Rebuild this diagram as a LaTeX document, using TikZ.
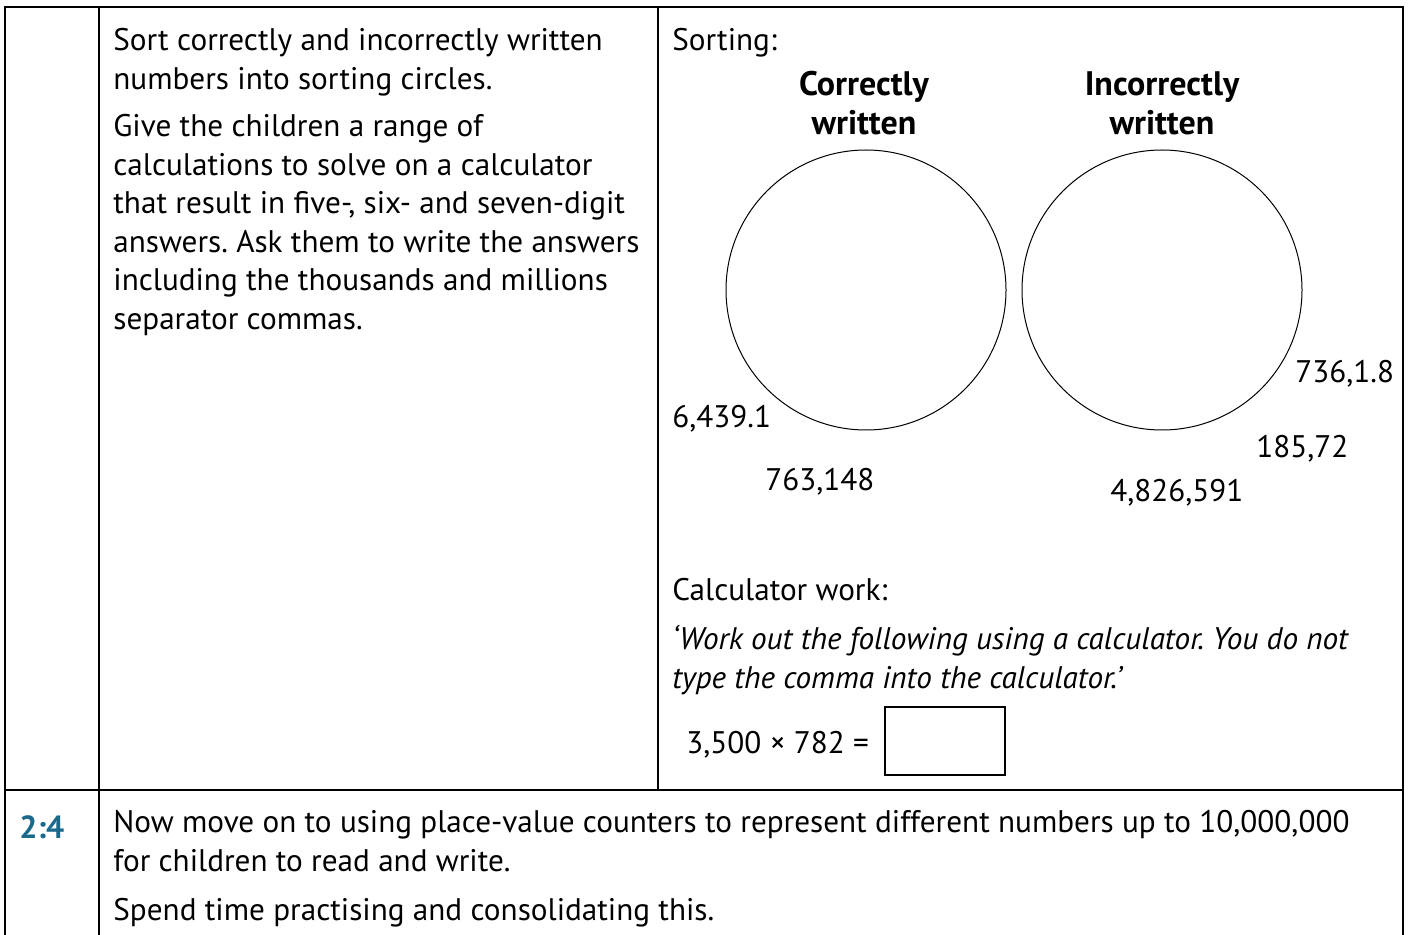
\documentclass[tikz,border=0pt]{standalone}
\usepackage{fontspec}
\setmainfont{PT Sans}
\usetikzlibrary{positioning}
\definecolor{stepblue}{HTML}{1B6A8C}
\newcommand\lineprop{\rule{0pt}{14pt}}
\frenchspacing

% baselines are given as y-28 (the prop is 14pt = 28 units)
\tikzset{
  body/.style={anchor=north west, inner sep=0pt, align=left,
    font=\fontsize{15.6}{19.25}\selectfont, execute at begin node=\lineprop},
  head/.style={anchor=north, inner sep=0pt, align=center,
    font=\fontsize{17}{19.5}\selectfont\bfseries, execute at begin node=\lineprop},
  rule/.style={line width=1pt},
  sortcirc/.style={circle, draw, line width=0.5pt, minimum size=140pt, inner sep=0pt}
}

\begin{document}
\begin{tikzpicture}[x=0.5pt,y=-0.5pt]
  \useasboundingbox (0,0) rectangle (1408,935);

  % table
  \draw[rule] (5,940) -- (5,7) -- (1403,7) -- (1403,940);
  \draw[rule] (99,7) -- (99,940);
  \draw[rule] (658,7) -- (658,790);
  \draw[rule] (5,790) -- (1403,790);

  % left column
  \node[body] (sortTask) at (113,28) {Sort correctly and incorrectly written\\numbers into sorting circles.\\[4.5pt]
    Give the children a range of\\calculations to solve on a calculator\\that result in five-, six- and seven-digit\\answers. Ask them to write the answers\\including the thousands and millions\\separator commas.};

  % sorting
  \node[body] (sortHead) at (672,22) {Sorting:};
  \node[head] (corrHead) at (864,71) {Correctly\\written};
  \node[head] (incHead) at (1162,71) {Incorrectly\\written};
  \node[sortcirc] (corrCirc) at (866,290) {};
  \node[sortcirc] (incCirc) at (1162,290) {};
  \node[body] (numA) at (672,399) {6,439.1};
  \node[body] (numB) at (765,462) {763,148};
  \node[body] (numC) at (1295,354) {736,1.8};
  \node[body] (numD) at (1256,429) {185,72};
  \node[body] (numE) at (1110,473) {4,826,591};

  % calculator
  \node[body] (calcHead) at (672,572) {Calculator work:};
  \node[body, font=\fontsize{15.6}{19.25}\selectfont\itshape] (calcQuote) at (672,625) {‘Work out the following using a calculator. You do not\\type the comma into the calculator.’};
  \node[body] (calcSum) at (686,725) {3,500 × 782 =};
  \draw[line width=0.75pt] (885,707) rectangle (1005,775);

  % next step
  \node[body, font=\fontsize{16}{19.25}\selectfont\bfseries, text=stepblue] (stepNo) at (19,810) {2:4};
  \node[body] (stepText) at (113,810) {Now move on to using place-value counters to represent different numbers up to 10,000,000\\for children to read and write.\\[5.5pt]
    Spend time practising and consolidating this.};
\end{tikzpicture}
\end{document}
